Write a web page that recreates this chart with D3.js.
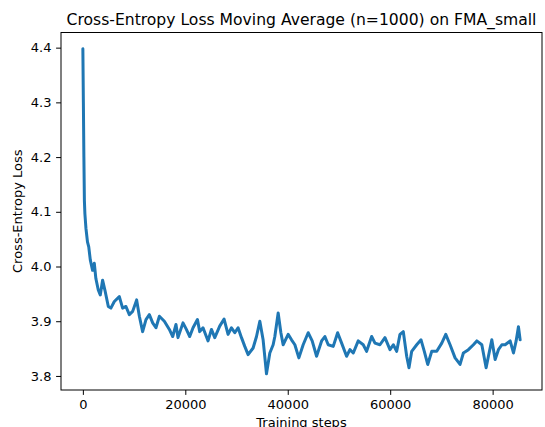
<!DOCTYPE html>
<html>
<head>
<meta charset="utf-8">
<script src="https://cdn.jsdelivr.net/npm/d3@7"></script>
<style>
  body { margin: 0; background: #fff; }
  text { font-family: "DejaVu Sans", sans-serif; fill: #000; }
</style>
</head>
<body>
<div id="chart"></div>
<script>
// Moving average of the loss
const steps = [0, 100, 200, 300, 400, 600, 900, 1150, 1450, 1900, 2230, 2540, 3010, 3400, 3850, 4300,
  4970, 5470, 6140, 7120, 7760, 8410, 9070, 9720, 10500, 11030, 11670, 12320, 12980, 13630, 14270,
  14940, 15910, 16890, 17540, 18180, 18570, 19550, 20210, 20860, 21510, 22370, 22810, 23460, 24440,
  25100, 25750, 26720, 27570, 28350, 29010, 29660, 30300, 30970, 31610, 32260, 33240, 33900, 34550,
  35190, 35850, 36500, 37150, 37480, 38130, 38660, 39100, 40080, 40740, 41390, 42170, 43010, 43990,
  44770, 45630, 46610, 47250, 47900, 48880, 49740, 50520, 51490, 52140, 52790, 53760, 54740, 55400,
  56380, 57030, 58000, 58980, 59960, 60610, 61270, 61910, 62560, 63220, 63670, 64200, 65180, 66020,
  66660, 67330, 68110, 69090, 70070, 70850, 71690, 72670, 73640, 74290, 75270, 76250, 76910, 77890,
  78730, 79180, 79840, 80490, 81130, 81800, 82440, 83420, 84070, 84590, 85040, 85370];
const losses = [4.398, 4.30, 4.20, 4.12, 4.096, 4.070, 4.045, 4.036, 4.012, 3.993, 4.006, 3.978, 3.957,
  3.948, 3.975, 3.957, 3.927, 3.924, 3.936, 3.945, 3.924, 3.927, 3.912, 3.918, 3.939, 3.909, 3.881,
  3.903, 3.912, 3.897, 3.888, 3.909, 3.900, 3.885, 3.872, 3.894, 3.870, 3.897, 3.885, 3.872, 3.888,
  3.903, 3.881, 3.888, 3.864, 3.885, 3.870, 3.891, 3.904, 3.876, 3.888, 3.879, 3.888, 3.870, 3.854,
  3.839, 3.851, 3.872, 3.900, 3.866, 3.804, 3.842, 3.857, 3.872, 3.915, 3.879, 3.857, 3.876, 3.866,
  3.857, 3.833, 3.857, 3.879, 3.864, 3.836, 3.864, 3.872, 3.857, 3.854, 3.879, 3.860, 3.836, 3.848,
  3.842, 3.864, 3.857, 3.845, 3.872, 3.860, 3.857, 3.870, 3.848, 3.857, 3.845, 3.876, 3.881, 3.836,
  3.815, 3.845, 3.857, 3.866, 3.845, 3.821, 3.845, 3.845, 3.860, 3.876, 3.857, 3.833, 3.821, 3.842,
  3.848, 3.857, 3.864, 3.857, 3.815, 3.836, 3.866, 3.830, 3.848, 3.857, 3.857, 3.864, 3.842, 3.864,
  3.890, 3.866];

const xTicks = [0, 20000, 40000, 60000, 80000];
const yTicks = [3.8, 3.9, 4.0, 4.1, 4.2, 4.3, 4.4];

const data = steps.map((s, i) => ({ step: s, loss: losses[i] }));

const W = 545, H = 427;
const margin = { top: 32.5, right: 3, bottom: 37, left: 61 };
const width = W - margin.left - margin.right,
    height = H - margin.top - margin.bottom;

const svg = d3.select("#chart")
    .append("svg")
    .attr("width", W)
    .attr("height", H);

const g = svg.append("g")
    .attr("transform", `translate(${margin.left},${margin.top})`);

// matplotlib style 5% padding
const xPad = (d3.max(steps) - d3.min(steps)) * 0.05;
const yPad = (d3.max(losses) - d3.min(losses)) * 0.05;

const x = d3.scaleLinear()
    .domain([d3.min(steps) - xPad, d3.max(steps) + xPad])
    .range([0, width]);

const y = d3.scaleLinear()
    .domain([d3.min(losses) - yPad, d3.max(losses) + yPad])
    .range([height, 0]);

const line = d3.line()
    .x(d => x(d.step))
    .y(d => y(d.loss));

g.append("path")
    .datum(data)
    .attr("fill", "none")
    .attr("stroke", "#1f77b4")
    .attr("stroke-width", 3)
    .attr("stroke-linejoin", "round")
    .attr("stroke-linecap", "round")
    .attr("d", line);

const xAxis = g.append("g")
    .attr("transform", `translate(0,${height})`)
    .call(d3.axisBottom(x).tickValues(xTicks).tickFormat(d3.format("d")).tickSize(4.9).tickPadding(4.6));

const yAxis = g.append("g")
    .call(d3.axisLeft(y).tickValues(yTicks).tickFormat(d3.format(".1f")).tickSize(4.9).tickPadding(4.6));

[xAxis, yAxis].forEach(ax => {
    ax.select(".domain").remove();
    ax.selectAll("line").attr("stroke", "#000").attr("stroke-width", 1);
    ax.selectAll("text")
        .style("font-size", "13px")
        .style("font-family", "DejaVu Sans, sans-serif")
        .attr("fill", "#000");
});

// frame
g.append("rect")
    .attr("width", width)
    .attr("height", height)
    .attr("fill", "none")
    .attr("stroke", "#000")
    .attr("stroke-width", 1);

svg.append("text")
    .attr("x", margin.left + width / 2)
    .attr("y", 24.5)
    .attr("text-anchor", "middle")
    .style("font-size", "15.6px")
    .text("Cross-Entropy Loss Moving Average (n=1000) on FMA_small");

svg.append("text")
    .attr("transform", `translate(22,${margin.top + height / 2}) rotate(-90)`)
    .attr("text-anchor", "middle")
    .style("font-size", "13px")
    .text("Cross-Entropy Loss");

// cut off at the bottom edge in the reference too
svg.append("text")
    .attr("x", margin.left + width / 2)
    .attr("y", 427)
    .attr("text-anchor", "middle")
    .style("font-size", "13px")
    .text("Training steps");
</script>
</body>
</html>
